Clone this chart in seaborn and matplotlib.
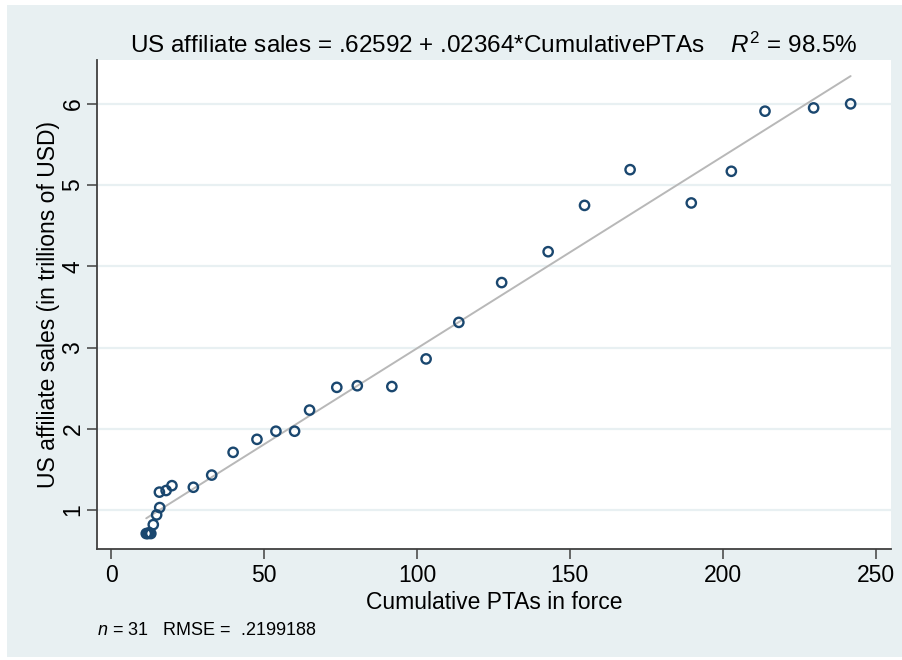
import matplotlib
matplotlib.use("Agg")
import matplotlib.pyplot as plt
import seaborn as sns
import numpy as np
import pandas as pd
from matplotlib.patches import Rectangle

# ---- data ----
cum_ptas = [11.5, 12.0, 12.5, 13.0, 13.8, 14.9, 15.9, 15.8, 18.0, 19.9,
            26.9, 32.9, 39.9, 47.7, 53.9, 60.0, 64.9, 73.8, 80.5, 91.8,
            103.0, 113.7, 127.7, 142.9, 154.8, 169.7, 189.7, 202.8, 213.8,
            229.7, 241.8]
sales = [0.71, 0.71, 0.72, 0.71, 0.82, 0.94, 1.03, 1.22, 1.24, 1.30,
         1.28, 1.43, 1.71, 1.87, 1.97, 1.97, 2.23, 2.51, 2.53, 2.52,
         2.86, 3.31, 3.80, 4.18, 4.75, 5.19, 4.78, 5.17, 5.91,
         5.95, 6.00]
intercept = 0.62592
slope = 0.02364
x_ticks = [0, 50, 100, 150, 200, 250]
y_ticks = [1, 2, 3, 4, 5, 6]

df = pd.DataFrame({"x": cum_ptas, "y": sales})
xs = np.array([min(cum_ptas), max(cum_ptas)])
fit = pd.DataFrame({"x": xs, "y": intercept + slope * xs})

sns.set_theme(style="white")
plt.rcParams["font.family"] = ["Liberation Sans", "DejaVu Sans"]
plt.rcParams["mathtext.fontset"] = "custom"
plt.rcParams["mathtext.rm"] = "Liberation Sans"
plt.rcParams["mathtext.it"] = "Liberation Sans:italic"
plt.rcParams["text.color"] = "black"
plt.rcParams["axes.labelcolor"] = "black"

panel = "#e8f0f2"
navy = "#1a476f"
axis_col = "#404040"

fig = plt.figure(figsize=(9.02, 6.6), dpi=100, facecolor="white")
fig.patches.append(Rectangle((7 / 902, 3 / 660), 1 - 7 / 902, 1 - 8 / 660,
                             transform=fig.transFigure, facecolor=panel,
                             edgecolor="none", zorder=-10))
ax = fig.add_axes([97 / 902, 111 / 660, (891 - 97) / 902, (549 - 60) / 660])
ax.set_facecolor("white")

sns.lineplot(data=fit, x="x", y="y", ax=ax, color="#b8b8b8", linewidth=1.4, zorder=2)
sns.scatterplot(data=df, x="x", y="y", ax=ax, s=45, facecolor="none",
                edgecolor=navy, linewidth=1.7, zorder=3)

ax.set_xlim(-4.6, 255)
ax.set_ylim(0.52, 6.54)
ax.set_xticks(x_ticks)
ax.set_yticks(y_ticks)
ax.set_xticklabels([str(t) for t in x_ticks], fontsize=16.5)
ax.set_yticklabels([str(t) for t in y_ticks], fontsize=16.5, rotation=90, va="center")
ax.tick_params(axis="x", direction="out", length=7, width=1.1, color=axis_col,
               labelcolor="black", bottom=True, pad=4)
ax.tick_params(axis="y", direction="out", length=7, width=1.1, color=axis_col,
               labelcolor="black", left=True, pad=2)
ax.yaxis.grid(True, color=panel, linewidth=1.6, zorder=0)
ax.xaxis.grid(False)
ax.set_axisbelow(True)
for s in ["top", "right"]:
    ax.spines[s].set_visible(False)
for s in ["left", "bottom"]:
    ax.spines[s].set_color(axis_col)
    ax.spines[s].set_linewidth(1.3)

ax.set_xlabel("Cumulative PTAs in force", fontsize=16.5, labelpad=3)
ax.set_ylabel("US affiliate sales (in trillions of USD)", fontsize=16.5, labelpad=1)
ax.set_title("US affiliate sales = .62592 + .02364*CumulativePTAs    $\\it{R}^{2}$ = 98.5%",
             fontsize=17.5, pad=5)

fig.text(97 / 902, 1 - 635 / 660, "$\\it{n}$ = 31   RMSE =  .2199188", fontsize=13,
         ha="left", va="baseline")

fig.savefig("out.png", dpi=100, facecolor=fig.get_facecolor())
